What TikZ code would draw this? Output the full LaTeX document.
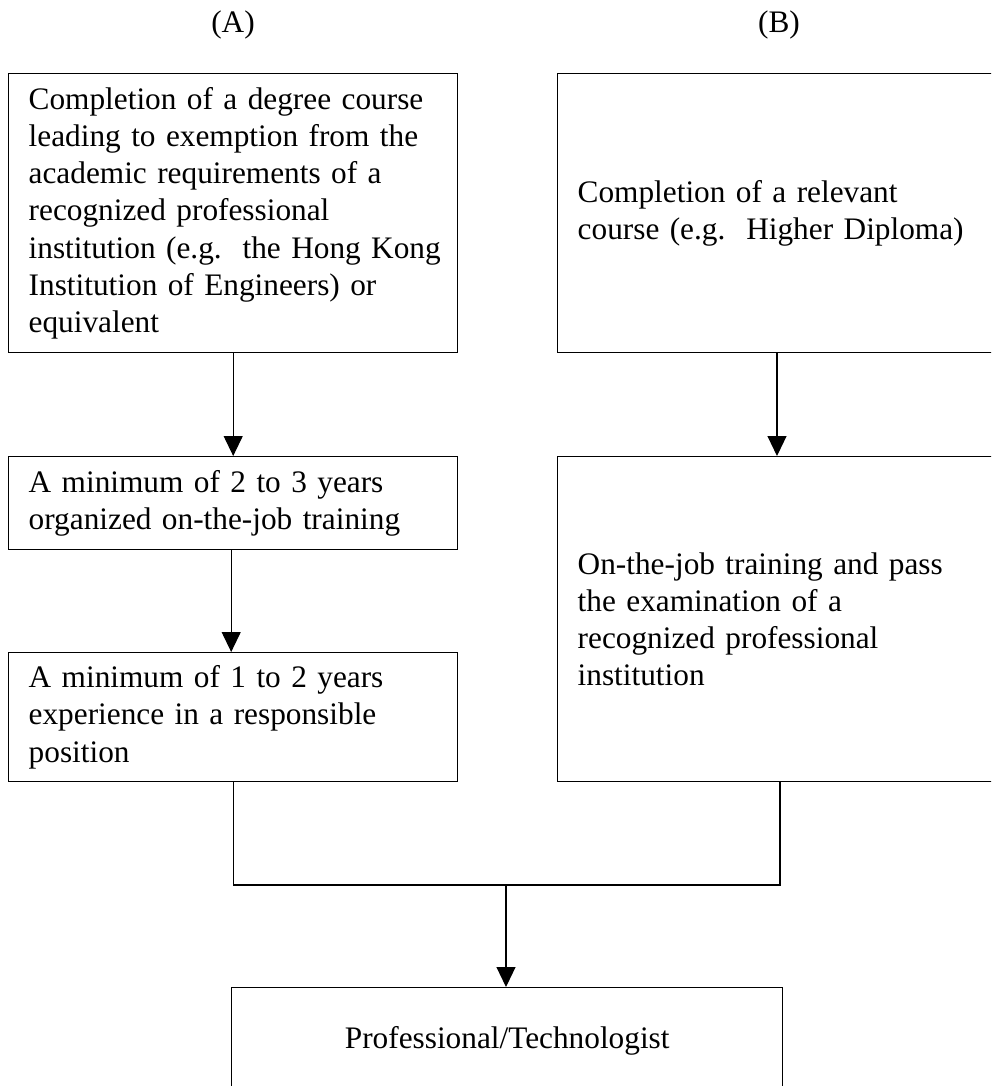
\documentclass[tikz,border=0pt]{standalone}
\usepackage{fontspec}
\setmainfont{Liberation Serif}
\usetikzlibrary{arrows.meta,calc}
\begin{document}
\begin{tikzpicture}[x=1pt,y=-1pt,
  every node/.style={font=\fontsize{31.3}{37.2}\selectfont},
  stepbox/.style={draw,line width=1.4pt,rectangle,anchor=north west,
    inner xsep=20pt,inner ysep=0pt,align=left},
  colhead/.style={anchor=base,inner sep=0pt},
  flow/.style={line width=1.1pt,-{Triangle[length=20pt,width=19pt]}},
  joinline/.style={line width=1.4pt}]
\useasboundingbox (0,0) rectangle (991,1086);
\clip (0,0) rectangle (991,1086);

% column headings
\node[colhead] (hA) at (233,33) {(A)};
\node[colhead] (hB) at (779,33) {(B)};

% route (A)
\node[stepbox,text width=409pt,minimum width=449pt,minimum height=279pt] (A1) at (8,73)
  {\mbox{Completion of a degree course}\\
   \mbox{leading to exemption from the}\\
   \mbox{academic requirements of a}\\
   \mbox{recognized professional}\\
   \mbox{institution (e.g.\ \ the Hong Kong}\\
   \mbox{Institution of Engineers) or}\\
   \mbox{equivalent}};
\node[stepbox,text width=409pt,minimum width=449pt,minimum height=93pt] (A2) at (8,456)
  {\mbox{A minimum of 2 to 3 years}\\
   \mbox{organized on-the-job training}};
\node[stepbox,text width=409pt,minimum width=449pt,minimum height=129pt] (A3) at (8,652)
  {\mbox{A minimum of 1 to 2 years}\\
   \mbox{experience in a responsible}\\
   \mbox{position}};

% route (B)
\node[stepbox,text width=420pt,minimum width=460pt,minimum height=279pt] (B1) at (557,73)
  {\mbox{Completion of a relevant}\\
   \mbox{course (e.g.\ \ Higher Diploma)}};
\node[stepbox,text width=420pt,minimum width=460pt,minimum height=325pt] (B2) at (557,456)
  {\mbox{On-the-job training and pass}\\
   \mbox{the examination of a}\\
   \mbox{recognized professional}\\
   \mbox{institution}};

% outcome
\node[draw,line width=1.4pt,rectangle,anchor=north west,minimum width=551pt,
  minimum height=106pt,inner sep=0pt] (P) at (231,987) {Professional/Technologist};

% arrows within each route
\draw[flow] (A1.south) -- (A2.north);
\draw[flow] ([xshift=-2pt]A2.south) -- ([xshift=-2pt]A3.north);
\draw[flow] ($(B1.south west)+(220,0)$) -- ($(B2.north west)+(220,0)$);

% both routes join and lead to the outcome
\coordinate (mergeM) at (506,885);
\coordinate (mergeL) at (A3.south |- mergeM);
\coordinate (mergeR) at (780,885);
\draw[joinline] (A3.south) -- (mergeL) -- (mergeR) -- (B2.south west -| mergeR);
\draw[flow] (mergeM) -- (mergeM |- P.north);
\end{tikzpicture}
\end{document}
